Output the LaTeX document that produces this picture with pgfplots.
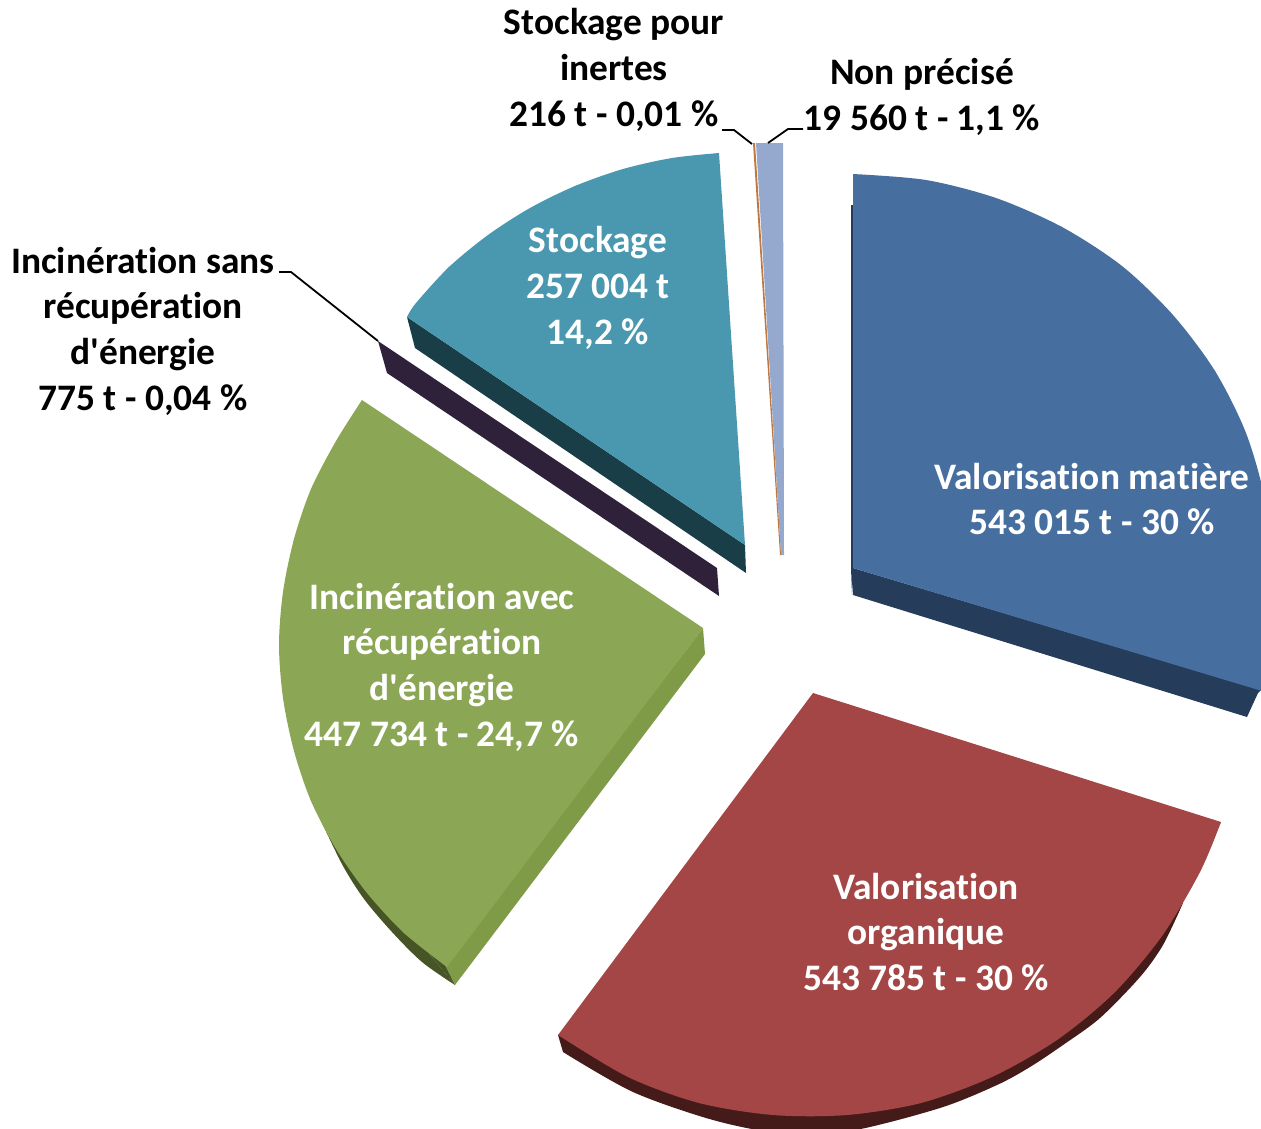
\documentclass[border=0pt]{standalone}
\usepackage{pgfplots}
\pgfplotsset{compat=1.18}
\usepackage{fontspec}
\setmainfont[Ligatures={TeXOff,NoCommon}]{Carlito}
\definecolor{bluef}{RGB}{70,111,160}
\definecolor{blues}{RGB}{38,60,91}
\definecolor{redf}{RGB}{163,70,69}
\definecolor{reds}{RGB}{69,27,25}
\definecolor{greenf}{RGB}{139,166,84}
\definecolor{greens}{RGB}{127,155,72}
\definecolor{greend}{RGB}{70,84,38}
\definecolor{tealf}{RGB}{74,152,175}
\definecolor{teals}{RGB}{26,62,72}
\definecolor{purp}{RGB}{46,33,57}
\definecolor{orangef}{RGB}{190,120,64}
\definecolor{paleb}{RGB}{149,168,205}
\tikzset{lab/.style={font=\fontsize{37.4}{45.7}\selectfont\bfseries, align=center, anchor=center, inner sep=0pt}}
\begin{document}
\begin{tikzpicture}
\useasboundingbox (0,0) rectangle (1261pt,1128pt);
\begin{axis}[
  x=1pt, y=1pt,
  xmin=0, xmax=1261, ymin=0, ymax=1128,
  y dir=reverse,
  hide axis,
  scale only axis,
  no markers,
  every axis plot/.append style={draw=none, line join=round},
]
% sides
\addplot[fill=blues] coordinates {(853,568) (1261,690) (1258,693) (1247,717) (853,595)} -- cycle;
\addplot[fill=blues] coordinates {(851,205) (853,205) (854,568) (852,595) (851,568)} -- cycle;
\addplot[fill=reds] coordinates {(900,1000) (558,1035) (563,1052) (900,1050)} -- cycle;
\addplot[fill=reds, smooth] coordinates {(563,1052) (633,1092) (713,1120) (780,1133) (850,1131) (940,1108) (997,1085) (1030,1067) (1063,1045) (1100,1018) (1140,977) (1163,945) (1183,903)};
\addplot[fill=greend, smooth] coordinates {(323,825) (343,866) (364,899) (392,932) (422,962) (455,985)};
\addplot[fill=greend] coordinates {(323,825) (447,967) (455,985)} -- cycle;
\addplot[fill=greens] coordinates {(703,628) (705,654) (455,985) (445,965)} -- cycle;
\addplot[fill=teals] coordinates {(407,317) (415,348) (746,573) (745,545)} -- cycle;
\addplot[fill=purp] coordinates {(378,341) (387,373) (719,596) (717,568)} -- cycle;
% faces: polygon through the centre, then the rim as a smooth curve over it
\addplot[fill=bluef] coordinates {(853,568) (853,174) (1062,227) (1215,371) (1271,568) (1262,691)} -- cycle;
\addplot[fill=bluef, smooth] coordinates {(853,174) (926,180) (996,198) (1062,227) (1122,266) (1173,315) (1215,371) (1246,433) (1265,500) (1271,568) (1265,636) (1262,691)};
\addplot[fill=redf] coordinates {(813,693) (1221,822) (1162,936) (992,1077) (773,1115) (558,1035)} -- cycle;
\addplot[fill=redf, smooth] coordinates {(1221,822) (1200,872) (1162,936) (1114,993) (1057,1040) (992,1077) (921,1103) (847,1115) (773,1115) (699,1103) (628,1077) (558,1035)};
\addplot[fill=greenf] coordinates {(362,400) (294,539) (279,645) (311,801) (404,933) (447,967) (703,628)} -- cycle;
\addplot[fill=greenf, smooth] coordinates {(362,400) (336,441) (311,489) (294,539) (283,592) (279,645) (283,698) (294,751) (311,801) (336,849) (367,893) (404,933) (447,967)};
\addplot[fill=tealf] coordinates {(719,153) (575,186) (449,267) (407,317) (745,545)} -- cycle;
\addplot[fill=tealf, smooth] coordinates {(719,153) (672,158) (623,169) (575,186) (530,208) (488,235) (449,267) (416,303) (407,317)};
\addplot[fill=paleb] coordinates {(756,143) (783,143) (784,555) (781,555)} -- cycle;
\addplot[fill=orangef] coordinates {(753,143) (755,143) (781,555) (780,555)} -- cycle;
% leader lines
\addplot[draw=black, line width=1.8pt] coordinates {(722,130) (734,130) (752,144)};
\addplot[draw=black, line width=1.8pt] coordinates {(803,129) (788,129) (768,143)};
\addplot[draw=black, line width=1.8pt] coordinates {(279,272) (291,272) (378,341)};
% labels
\node[lab] at (axis cs:614,70) {Stockage pour\\inertes\\216 t - 0,01 \%};
\node[lab] at (axis cs:922,97) {Non précisé\\19 560 t - 1,1 \%};
\node[lab] at (axis cs:143,331) {Incinération sans\\récupération\\d'énergie\\775 t - 0,04 \%};
\node[lab, white] at (axis cs:598,288) {Stockage\\257 004 t\\14,2 \%};
\node[lab, white] at (axis cs:1092,499) {Valorisation matière\\543 015 t - 30 \%};
\node[lab, white] at (axis cs:926,932) {Valorisation\\organique\\543 785 t - 30 \%};
\node[lab, white] at (axis cs:442,667) {Incinération avec\\récupération\\d'énergie\\447 734 t - 24,7 \%};
\end{axis}
\end{tikzpicture}
\end{document}
